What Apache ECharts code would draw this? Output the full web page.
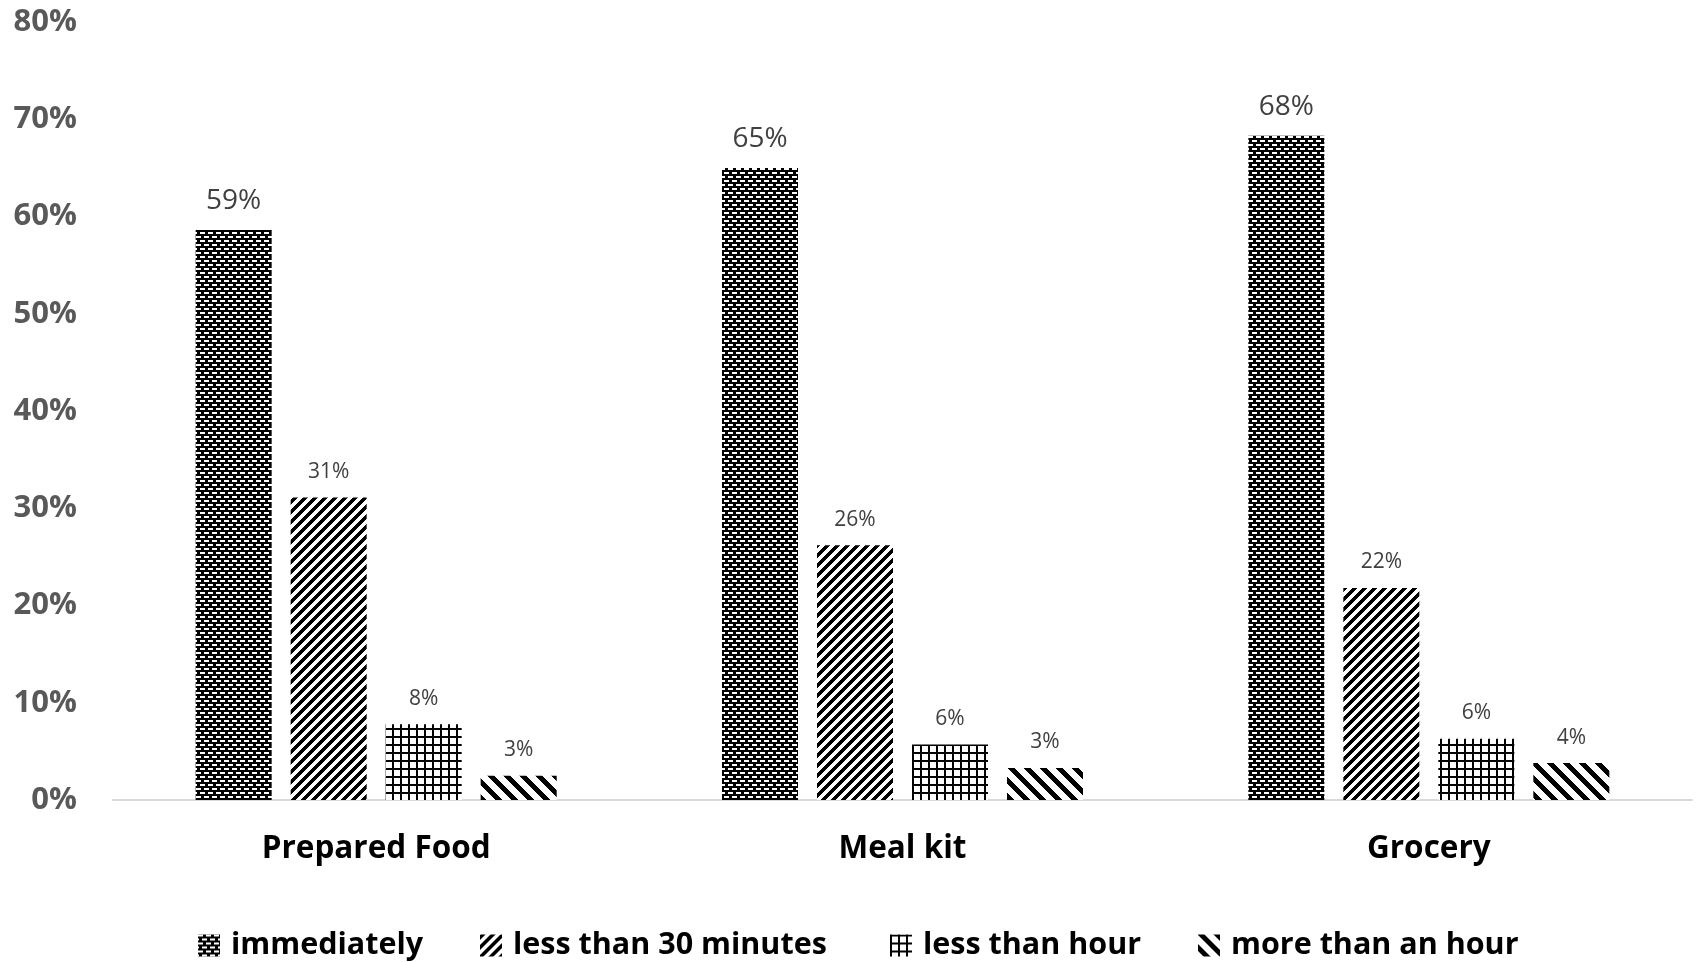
<!DOCTYPE html>
<html>
<head>
<meta charset="utf-8">
<script src="https://cdn.jsdelivr.net/npm/echarts@6/dist/echarts.min.js"></script>
<style>
html,body{margin:0;padding:0;background:#fff;}
#chart{width:1698px;height:962px;}
</style>
</head>
<body>
<div id="chart"></div>
<script>
const categories = ['Prepared Food', 'Meal kit', 'Grocery'];
const seriesNames = ['immediately', 'less than 30 minutes', 'less than hour', 'more than an hour'];
const immediately = [58.6, 65.0, 68.3];
const lessThan30 = [31.1, 26.2, 21.8];
const lessThanHour = [7.8, 5.7, 6.3];
const moreThanHour = [2.5, 3.3, 3.8];
const yTicks = [0, 10, 20, 30, 40, 50, 60, 70, 80];

function makeTile(w, h, isBlack) {
  const c = document.createElement('canvas');
  c.width = w; c.height = h;
  const ctx = c.getContext('2d');
  const img = ctx.createImageData(w, h);
  for (let y = 0; y < h; y++) {
    for (let x = 0; x < w; x++) {
      const i = (y * w + x) * 4;
      const v = isBlack(x, y) ? 0 : 255;
      img.data[i] = v; img.data[i + 1] = v; img.data[i + 2] = v; img.data[i + 3] = 255;
    }
  }
  ctx.putImageData(img, 0, 0);
  return c;
}
const mod = (a, n) => ((a % n) + n) % n;
const pat1 = makeTile(8, 8, (x, y) => {
  const white = (y < 2 && x >= 0 && x < 5) || (y >= 4 && y < 6 && (x >= 4 || x < 1));
  return !white;
});
const pat2 = makeTile(10, 10, (x, y) => mod(x + y, 10) < 5);
const pat3 = makeTile(8, 8, (x, y) => (x % 8) < 2 || (y % 8) < 2);
const pat4 = makeTile(16, 16, (x, y) => mod(x - y, 16) < 7);
const patterns = [pat1, pat2, pat3, pat4].map(c => ({ image: c, repeat: 'repeat' }));

const allData = [immediately, lessThan30, lessThanHour, moreThanHour];
const labelSizes = [28, 21, 21, 21];
const legendLefts = [198, 480, 890, 1198];

const chart = echarts.init(document.getElementById('chart'), null, { renderer: 'canvas' });

const series = seriesNames.map((name, i) => ({
  name: name,
  type: 'bar',
  data: allData[i],
  barWidth: 76,
  barGap: '25%',
  itemStyle: { color: patterns[i] },
  label: {
    show: true,
    position: 'top',
    distance: 15,
    fontFamily: 'Open Sans',
    fontSize: labelSizes[i],
    color: '#404040',
    formatter: p => Math.round(p.value) + '%'
  }
}));

const legends = seriesNames.map((name, i) => ({
  data: [name],
  left: legendLefts[i],
  top: 930,
  padding: 0,
  orient: 'horizontal',
  icon: 'rect',
  itemWidth: 22,
  itemHeight: 22,
  textStyle: {
    fontFamily: 'Open Sans',
    fontWeight: 'bold',
    fontSize: 30.5,
    color: '#000',
    lineHeight: 30,
    padding: [0, 0, 0, 6]
  }
}));

chart.setOption({
  animation: false,
  backgroundColor: '#fff',
  grid: { left: 113, right: 6, top: 22, bottom: 162, containLabel: false },
  legend: legends,
  xAxis: {
    type: 'category',
    data: categories,
    axisLine: { show: true, lineStyle: { color: '#d9d9d9', width: 2 } },
    axisTick: { show: false },
    axisLabel: {
      margin: 30,
      fontFamily: 'Open Sans',
      fontWeight: 'bold',
      fontSize: 31.5,
      lineHeight: 38,
      color: '#000'
    }
  },
  yAxis: {
    type: 'value',
    min: yTicks[0],
    max: yTicks[yTicks.length - 1],
    interval: yTicks[1] - yTicks[0],
    splitLine: { show: false },
    axisLine: { show: false },
    axisTick: { show: false },
    axisLabel: {
      margin: 36,
      fontFamily: 'Open Sans',
      fontWeight: 'bold',
      fontSize: 31,
      color: '#595959',
      formatter: v => v + '%'
    }
  },
  series: series
});
</script>
</body>
</html>
